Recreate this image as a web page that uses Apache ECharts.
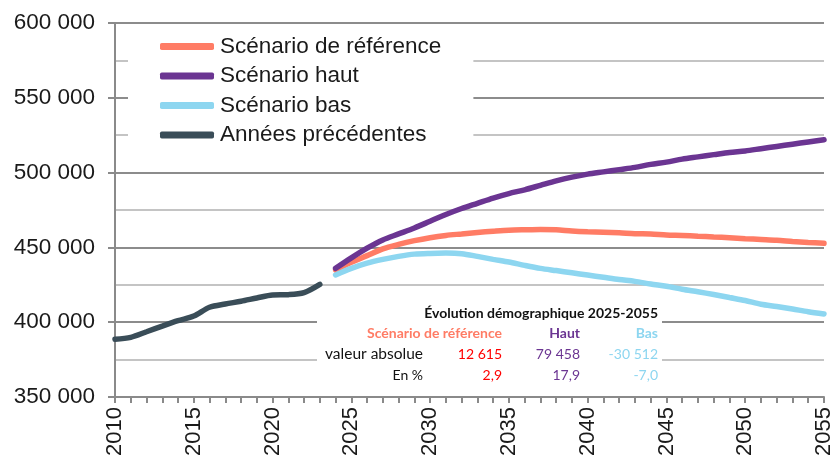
<!DOCTYPE html>
<html>
<head>
<meta charset="utf-8">
<script src="https://cdn.jsdelivr.net/npm/echarts@6/dist/echarts.min.js"></script>
<style>
  html, body { margin: 0; padding: 0; background: #fff; }
</style>
</head>
<body>
<div id="main" style="width: 835px;height:462px;"></div>
<script>
// années 2010 -> 2055
var years = [];
for (var y = 2010; y <= 2055; y++) years.push(String(y));

// population observée 2010-2023
var precedentes = [388600, 389900, 393600, 397400, 401000, 404100, 410000, 412200, 414000, 416200, 418200, 418400, 419800, 425300];

// projections 2024-2055
var reference = [434900, 440000, 444500, 449000, 452000, 454500, 456500, 458000, 459000, 460000, 460800, 461500, 461800, 462000, 461800, 461000,
  460500, 460200, 459800, 459200, 459000, 458300, 458000, 457500, 457000, 456500, 455800, 455300, 454800, 454000, 453300, 452700];
var haut = [436000, 443000, 449500, 455000, 459000, 463000, 467500, 472000, 476000, 479500, 483000, 486000, 488500, 491500, 494500, 497000,
  499000, 500500, 502000, 503500, 505500, 507000, 509000, 510500, 512000, 513500, 514500, 516000, 517500, 519000, 520500, 522000];
var bas = [431600, 436000, 439500, 442000, 444000, 445500, 446000, 446200, 445800, 444000, 442000, 440200, 438000, 436000, 434500, 433000,
  431500, 430000, 428500, 427300, 425500, 424000, 422000, 420300, 418500, 416500, 414500, 412000, 410500, 408800, 407000, 405500];

// tableau récapitulatif
var tableTitre = "Évolution démographique 2025-2055";
var tableEntetes = ["Scénario de référence", "Haut", "Bas"];
var tableLignes = ["valeur absolue", "En %"];
var tableValeurs = [["12 615", "79 458", "-30 512"], ["2,9", "17,9", "-7,0"]];

var nbHisto = precedentes.length;
function pad(arr, before) {
  var out = [];
  for (var i = 0; i < before; i++) out.push(null);
  return out.concat(arr);
}
function milliers(v) {
  return String(v).replace(/\B(?=(\d{3})+(?!\d))/g, " ");
}

var cRef = "#ff7c65", cHaut = "#6b3592", cBas = "#8dd6f0", cHist = "#3a4d58";
var cellColors = [["#ff0000", cHaut, cBas], ["#ff0000", cHaut, cBas]];
var colRight = [502, 580, 658];
var rowY = [354, 375];
var fontTab = "14px Lato, 'Noto Sans', sans-serif";

var graphics = [
  { type: "rect", shape: { x: 317, y: 297, width: 345, height: 89 }, style: { fill: "#fff" }, z: 10 },
  { type: "text", x: 658, y: 313, z: 11, style: { text: tableTitre, align: "right", verticalAlign: "middle",
      font: "bold " + fontTab, fill: "#111" } }
];
tableEntetes.forEach(function (t, j) {
  graphics.push({ type: "text", x: colRight[j], y: 333, z: 11, style: { text: t, align: "right", verticalAlign: "middle",
    font: "bold " + fontTab, fill: [cRef, cHaut, cBas][j] } });
});
tableLignes.forEach(function (t, i) {
  graphics.push({ type: "text", x: 423, y: rowY[i], z: 11, style: { text: t, align: "right",
    verticalAlign: "middle", font: i === 0 ? "15.5px Lato, 'Noto Sans', sans-serif" : fontTab, fill: "#111" } });
  tableValeurs[i].forEach(function (v, j) {
    graphics.push({ type: "text", x: colRight[j], y: rowY[i], z: 11, style: { text: v, align: "right", verticalAlign: "middle",
      font: fontTab, fill: cellColors[i][j] } });
  });
});

var myChart = echarts.init(document.getElementById("main"));
var ligne = function (name, data, color) {
  return {
    name: name, type: "line", data: data, symbol: "none", smooth: 0.3,
    connectNulls: false, lineStyle: { width: 5.5, color: color, cap: "round" }, itemStyle: { color: color }
  };
};

var option = {
  animation: false,
  textStyle: { fontFamily: "'Liberation Sans', Arial, sans-serif" },
  grid: { left: 115, right: 9, top: 23, bottom: 65 },
  legend: {
    orient: "vertical", left: 128, top: 30,
    padding: [5, 32, 8, 32],
    backgroundColor: "#fff",
    itemWidth: 54, itemHeight: 7, itemGap: 6.5,
    icon: "roundRect",
    textStyle: { fontSize: 22.5, color: "#1a1a1a", lineHeight: 23, padding: [0, 0, 0, 1] },
    data: ["Scénario de référence", "Scénario haut", "Scénario bas", "Années précédentes"]
  },
  xAxis: {
    type: "category", data: years, boundaryGap: false,
    axisLine: { lineStyle: { color: "#8a8a8a", width: 2 } },
    axisTick: { interval: 0, length: 6, lineStyle: { color: "#8a8a8a", width: 2 } },
    axisLabel: { interval: 4, rotate: 90, fontSize: 22, color: "#1a1a1a", margin: 10 },
    splitLine: { show: false }
  },
  yAxis: {
    type: "value", min: 350000, max: 600000, interval: 50000,
    axisLine: { show: true, lineStyle: { color: "#8a8a8a", width: 2 } },
    axisTick: { show: true, length: 7, lineStyle: { color: "#8a8a8a", width: 2 } },
    axisLabel: { fontSize: 22.5, color: "#1a1a1a", margin: 20, formatter: milliers },
    splitLine: { lineStyle: { color: "#8c8c8c", width: 2 } },
    minorTick: { show: false, splitNumber: 2 },
    minorSplitLine: { show: true, lineStyle: { color: "#c4c4c4", width: 2 } }
  },
  series: [
    ligne("Scénario de référence", pad(reference, nbHisto), cRef),
    ligne("Scénario haut", pad(haut, nbHisto), cHaut),
    ligne("Scénario bas", pad(bas, nbHisto), cBas),
    ligne("Années précédentes", precedentes, cHist)
  ],
  graphic: graphics
};
myChart.setOption(option);
</script>
</body>
</html>
